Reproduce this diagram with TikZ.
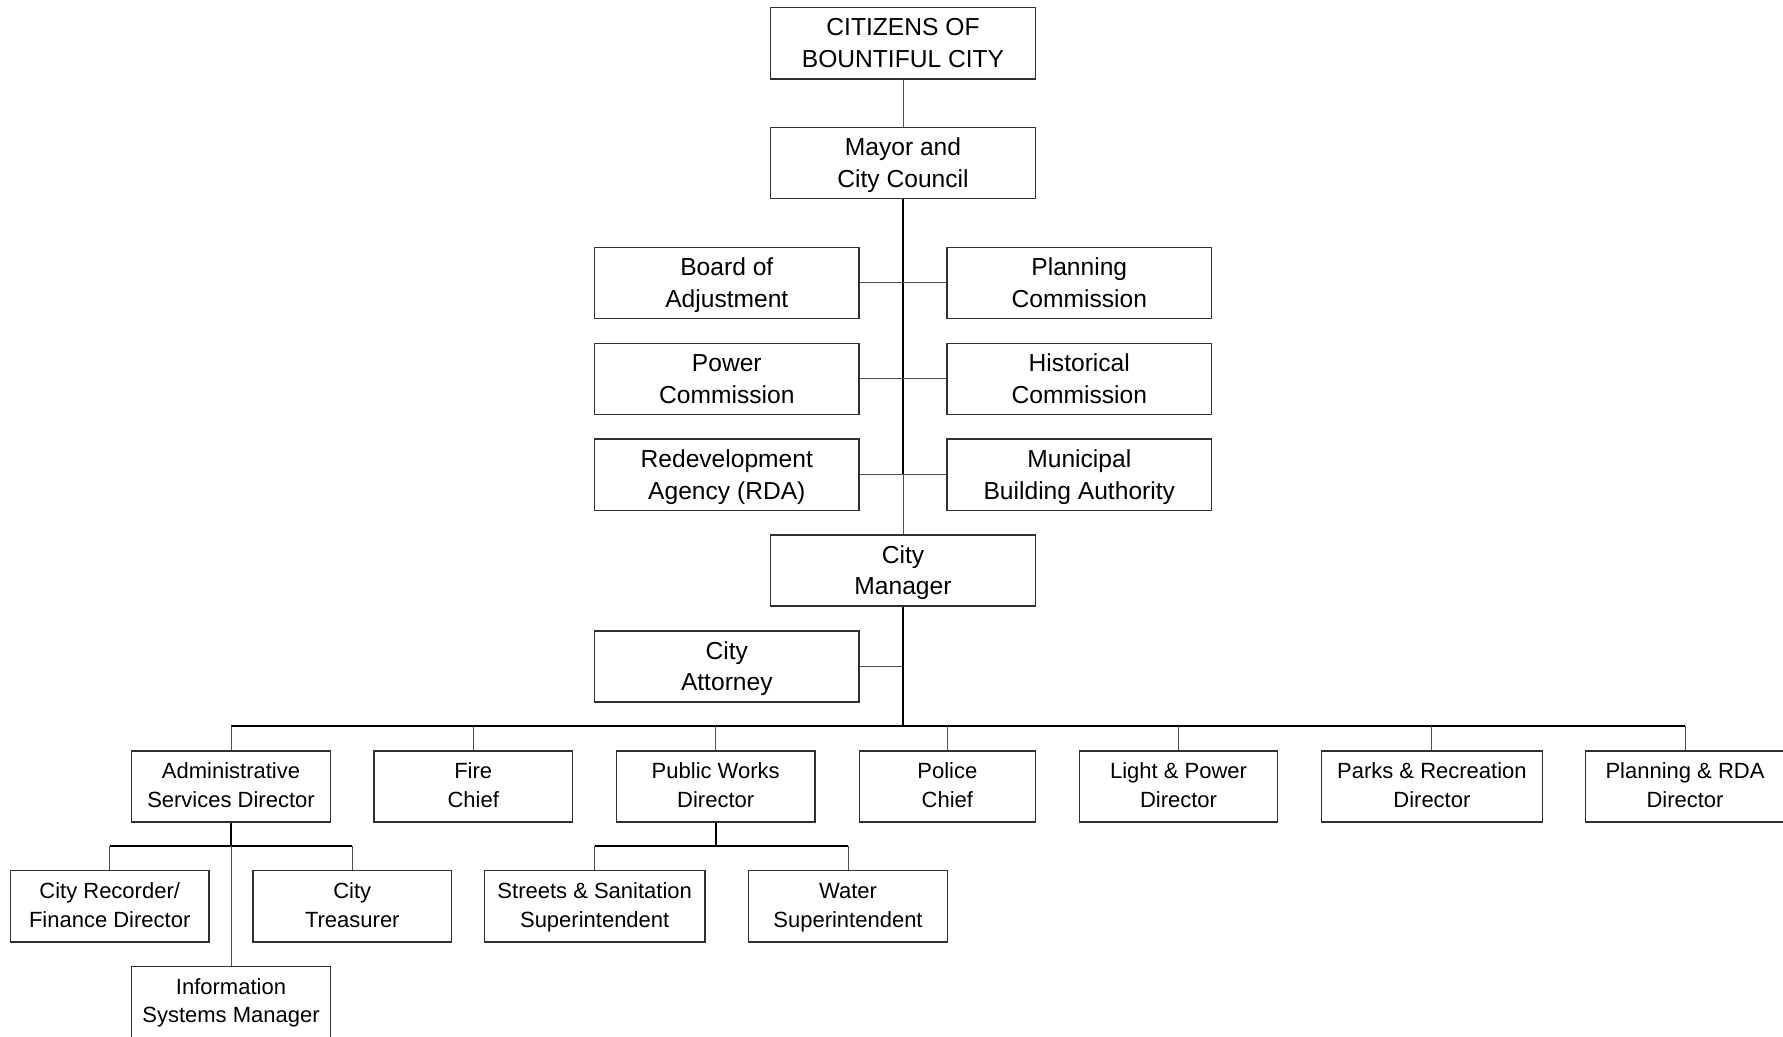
\documentclass[tikz,border=0pt]{standalone}
\usepackage{fontspec}
\setmainfont{Liberation Sans}
\definecolor{boxgray}{HTML}{303030}
\definecolor{linegray}{HTML}{505050}
\newlength{\txtshift}
\newcommand{\tl}[1]{\raisebox{-\txtshift}[\height][\depth]{\begin{tabular}{@{}c@{}}#1\end{tabular}}}
\begin{document}
\begin{tikzpicture}[x=0.5pt,y=-0.5pt,
  box/.style={draw=boxgray, line width=0.65pt, minimum height=35.6pt, inner sep=0pt, align=center, text=black},
  bigtext/.style={font=\fontsize{12.3}{15.9}\selectfont\setlength{\txtshift}{1.05pt}},
  smalltext/.style={font=\fontsize{11}{14.2}\selectfont\setlength{\txtshift}{0.5pt}},
  wide/.style={box, bigtext, minimum width=132.2pt},
  mid/.style={box, smalltext, minimum width=99.2pt},
  midw/.style={box, smalltext, minimum width=110.4pt},
  thin/.style={draw=linegray, line width=0.5pt},
  thick/.style={draw=black, line width=1.1pt},
  busline/.style={draw=black, line width=0.75pt}]
\useasboundingbox (0,0) rectangle (1783,1037);
\clip (0,0) rectangle (1783,1037);
% top column
\node[wide] (cit) at (903,43.3) {\tl{CITIZENS OF\\BOUNTIFUL CITY}};
\node[wide] (may) at (903,163) {\tl{Mayor and\\City Council}};
\node[wide] (boa) at (726.8,283) {\tl{Board of\\Adjustment}};
\node[wide] (pla) at (1079.3,283) {\tl{Planning\\Commission}};
\node[wide] (pow) at (726.8,378.8) {\tl{Power\\Commission}};
\node[wide] (his) at (1079.3,378.8) {\tl{Historical\\Commission}};
\node[wide] (red) at (726.8,474.7) {\tl{Redevelopment\\Agency (RDA)}};
\node[wide] (mun) at (1079.3,474.7) {\tl{Municipal\\Building Authority}};
\node[wide] (cm) at (903,570.5) {\tl{City\\Manager}};
\node[wide] (att) at (726.8,666.5) {\tl{City\\Attorney}};
% department row
\node[mid] (adm) at (231,786.5) {\tl{Administrative\\Services Director}};
\node[mid] (fir) at (473.2,786.5) {\tl{Fire\\Chief}};
\node[mid] (pwd) at (715.7,786.5) {\tl{Public Works\\Director}};
\node[box, smalltext, minimum width=88pt] (pol) at (947.4,786.5) {\tl{Police\\Chief}};
\node[mid] (lpd) at (1178.5,786.5) {\tl{Light \& Power\\Director}};
\node[midw] (par) at (1431.9,786.5) {\tl{Parks \& Recreation\\Director}};
\node[mid] (prd) at (1685,786.5) {\tl{Planning \& RDA\\Director}};
% sub row
\node[mid] (rec) at (109.7,906.3) {\tl{City Recorder/\\Finance Director}};
\node[mid] (tre) at (352.3,906.3) {\tl{City\\Treasurer}};
\node[midw] (str) at (594.7,906.3) {\tl{Streets \& Sanitation\\Superintendent}};
\node[mid] (wat) at (848,906.3) {\tl{Water\\Superintendent}};
\node[mid] (inf) at (231,1002) {\tl{Information\\Systems Manager}};
% coordinates
\coordinate (spr) at (may.south |- red.east);
\coordinate (spa) at (may.south |- att.east);
\coordinate (bus) at (903,726);
\coordinate (abus) at (231,846);
\coordinate (pbus) at (715.7,846);
% connectors
\draw[thin] (cit) -- (may);
\draw[thick] (may.south) -- (spr);
\draw[thin] (spr) -- (cm.north);
\draw[thin] (boa) -- (pla);
\draw[thin] (pow) -- (his);
\draw[thin] (red) -- (mun);
\draw[thin] (att.east) -- (spa);
\draw[thick] (cm.south) -- (bus);
\draw[busline] (adm.north |- bus) -- (prd.north |- bus);
\foreach \n in {adm,fir,pwd,pol,lpd,par,prd}{
  \draw[thin] (\n.north |- bus) -- (\n.north);
}
\draw[thick] (adm.south) -- (abus);
\draw[busline] (rec.north |- abus) -- (tre.north |- abus);
\draw[thin] (rec.north |- abus) -- (rec.north);
\draw[thin] (tre.north |- abus) -- (tre.north);
\draw[thin] (abus) -- (inf.north);
\draw[thick] (pwd.south) -- (pbus);
\draw[busline] (str.north |- pbus) -- (wat.north |- pbus);
\draw[thin] (str.north |- pbus) -- (str.north);
\draw[thin] (wat.north |- pbus) -- (wat.north);
\end{tikzpicture}
\end{document}
